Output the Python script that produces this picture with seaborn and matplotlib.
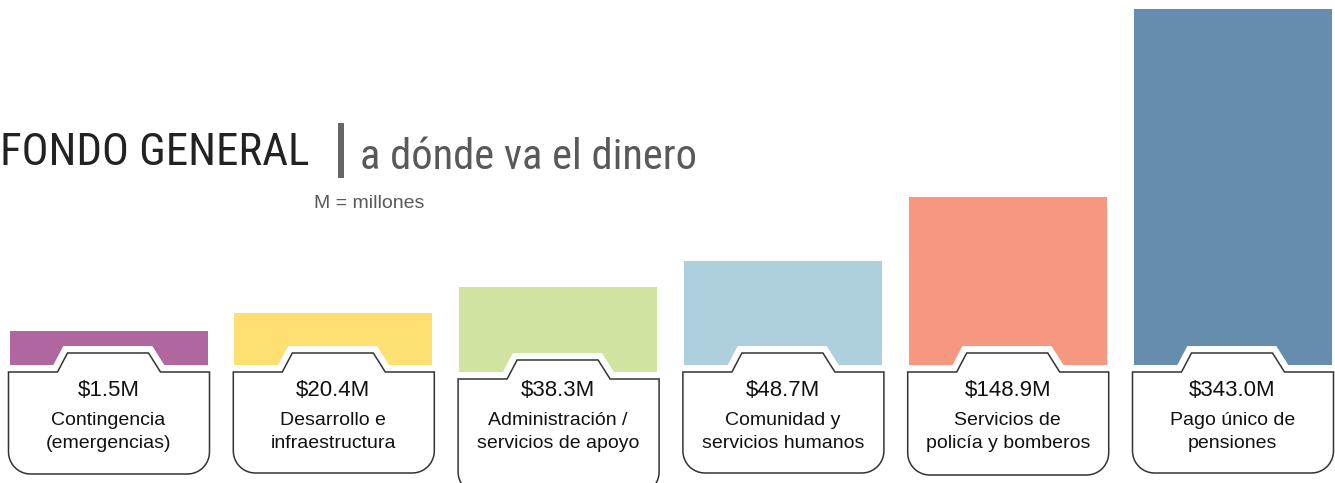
import os
import numpy as np
import matplotlib
matplotlib.use("Agg")
import matplotlib.pyplot as plt
from matplotlib.patches import Polygon, Rectangle
from matplotlib import font_manager as fm
import seaborn as sns

# ---------------- data ----------------
categories = ["Contingencia", "Desarrollo", "Administración", "Comunidad", "Policía", "Pensiones"]
values = [1.5, 20.4, 38.3, 48.7, 148.9, 343.0]          # millions of dollars
value_labels = ["$1.5M", "$20.4M", "$38.3M", "$48.7M", "$148.9M", "$343.0M"]
descriptions = [
    "Contingencia\n(emergencias)",
    "Desarrollo e\ninfraestructura",
    "Administración /\nservicios de apoyo",
    "Comunidad y\nservicios humanos",
    "Servicios de\npolicía y bomberos",
    "Pago único de\npensiones",
]
# bar heights as drawn in the infographic (not proportional to values)
bar_heights = [41, 59, 85, 111, 175, 363]
colors = ["#B0679F", "#FDDF72", "#D1E3A0", "#AECFDE", "#F5987F", "#678DAE"]

# ---------------- style ----------------
sns.set_theme(style="white")
plt.rcParams["font.family"] = ["Liberation Sans", "DejaVu Sans"]


def pick_condensed():
    bad = ("bold", "italic", "oblique", "light", "thin", "medium", "black",
           "semi", "extra", "heavy", "book")
    prefs = ["liberationsansnarrow", "robotocondensed", "arimo", "opensanscondensed",
             "notosanscondensed", "dejavusanscondensed"]
    found = []
    for f in fm.fontManager.ttflist:
        base = os.path.basename(f.fname).lower().replace("-", "").replace("_", "")
        stem = os.path.splitext(base)[0]
        narrow = ("narrow" in stem or "condensed" in stem
                  or str(f.stretch) in ("condensed", "semi-condensed"))
        if not narrow:
            continue
        tail = stem
        for p in prefs:
            tail = tail.replace(p, "")
        if any(b in tail for b in bad):
            continue
        rank = len(prefs)
        for k, p in enumerate(prefs):
            if stem.startswith(p):
                rank = k
                break
        found.append((rank, f.fname))
    if not found:
        return None
    found.sort()
    return found[0][1]


cond = pick_condensed()
title_fp = fm.FontProperties(fname=cond) if cond else fm.FontProperties(family="Liberation Sans")

W, H, DPI = 1335, 483, 100
fig = plt.figure(figsize=(W / DPI, H / DPI), dpi=DPI)
ax = fig.add_axes([0, 0, 1, 1])

PX = 224.8          # pixels per category slot
X0 = 108.5          # pixel x of first category centre
BASE = 372.0        # pixel y (from top) of the bar baseline / card top

sns.barplot(x=categories, y=bar_heights, hue=categories, palette=colors,
            legend=False, width=198 / PX, saturation=1, linewidth=0, ax=ax, zorder=1)

ax.set_xlim(-X0 / PX, (W - X0) / PX)
ax.set_ylim(-(H - BASE), BASE)
ax.set_axis_off()

# --------------- cards ---------------
card_drop = [0, 0, 7, 0, 0, 0]
card_depth = [102, 101, 115, 101, 103, 101]


def card_points(i, drop, depth):
    R = 22.0
    pts = []
    L, Rt = -100.0, 101.0
    pts.append((L, 0))
    pts += [(-51, 0), (-41, 19), (40, 19), (52, 0), (Rt, 0)]
    for a in np.linspace(0, -np.pi / 2, 12):
        pts.append((Rt - R + R * np.cos(a), -depth + R + R * np.sin(a)))
    for a in np.linspace(-np.pi / 2, -np.pi, 12):
        pts.append((L + R + R * np.cos(a), -depth + R + R * np.sin(a)))
    return [(i + dx / PX, dy - drop) for dx, dy in pts]


for i in range(len(categories)):
    pts = card_points(i, card_drop[i], card_depth[i])
    ax.add_patch(Polygon(pts, closed=True, facecolor="white", edgecolor="white",
                         linewidth=10, joinstyle="miter", zorder=3))
    ax.add_patch(Polygon(pts, closed=True, facecolor="white", edgecolor="#333333",
                         linewidth=1.1, joinstyle="miter", zorder=4))
    ax.text(i, -(390 - BASE), value_labels[i], ha="center", va="center",
            fontsize=16, color="#111111", zorder=5)
    ax.text(i, -(432 - BASE), descriptions[i], ha="center", va="center",
            fontsize=14, color="#111111", linespacing=1.4, zorder=5)

# --------------- titles ---------------
t1 = fig.text(0 / W, 1 - 165 / H, "FONDO GENERAL", ha="left", va="baseline",
              fontproperties=title_fp, fontsize=35, color="#222222")
fig.add_artist(Rectangle((338 / W, 1 - 178 / H), 6 / W, 55 / H,
                         transform=fig.transFigure, color="#666666", linewidth=0))
t2 = fig.text(360 / W, 1 - 169 / H, "a dónde va el dinero", ha="left", va="baseline",
              fontproperties=title_fp, fontsize=36, color="#595959")
fig.text(314 / W, 1 - 208 / H, "M = millones", ha="left", va="baseline",
         fontsize=14, color="#595959")

# fit the title widths to the layout
fig.canvas.draw()
rend = fig.canvas.get_renderer()
for t, target in ((t1, 309.0), (t2, 338.0)):
    w = t.get_window_extent(rend).width
    if w > 0:
        t.set_fontsize(t.get_fontsize() * target / w)

fig.savefig("out.png", dpi=DPI)
